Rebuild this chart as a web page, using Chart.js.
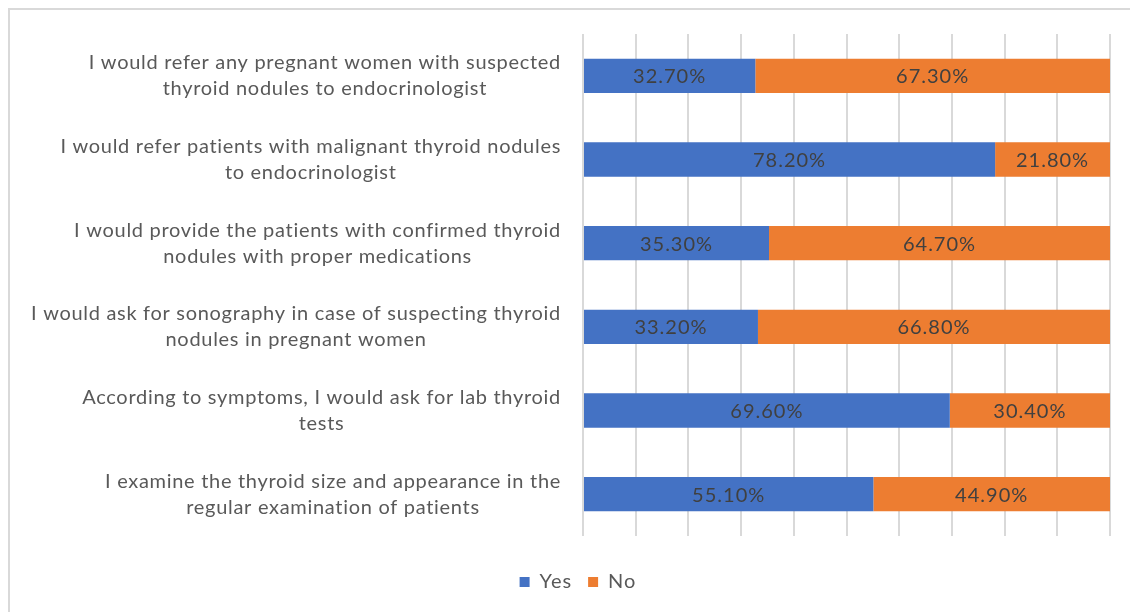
<!DOCTYPE html>
<html>
<head>
<meta charset="utf-8">
<script src="https://cdn.jsdelivr.net/npm/chart.js@4.4.0/dist/chart.umd.min.js"></script>
<style>
  html, body { margin: 0; padding: 0; background: #fff; overflow: hidden; }
  #wrap { position: relative; width: 1130px; height: 612px; }
  #frame { position: absolute; left: 8px; top: 8px; width: 1200px; height: 700px; border: 2px solid #d9d9d9; box-sizing: border-box; }
  canvas { position: absolute; left: 0; top: 0; }
</style>
</head>
<body>
<div id="wrap">
  <div id="frame"></div>
  <canvas id="chart" width="1130" height="612"></canvas>
</div>
<script>
const questions = [
  ["I would refer any pregnant women with suspected", "thyroid nodules to endocrinologist"],
  ["I would refer patients with malignant thyroid nodules", "to endocrinologist"],
  ["I would provide the patients with confirmed thyroid", "nodules with proper medications"],
  ["I would ask for sonography in case of suspecting thyroid", "nodules in pregnant women"],
  ["According to symptoms, I would ask for lab thyroid", "tests"],
  ["I examine the thyroid size and appearance in the", "regular examination of patients"]
];
const yesValues = [32.7, 78.2, 35.3, 33.2, 69.6, 55.1];
const noValues = [67.3, 21.8, 64.7, 66.8, 30.4, 44.9];

const FONT = "Lato, 'Open Sans', sans-serif";

// wider letter spacing for everything the library draws (legend)
const spacing = {
  id: 'spacing',
  beforeLayout(chart) { chart.ctx.letterSpacing = '1px'; },
  beforeDraw(chart) { chart.ctx.letterSpacing = '1px'; }
};

// labels inside each bar segment
const barLabels = {
  id: 'barLabels',
  afterDatasetsDraw(chart) {
    const ctx = chart.ctx;
    ctx.save();
    ctx.font = "20px " + FONT;
    ctx.letterSpacing = '1px';
    ctx.fillStyle = '#404040';
    ctx.textAlign = 'center';
    ctx.textBaseline = 'middle';
    chart.data.datasets.forEach((ds, i) => {
      chart.getDatasetMeta(i).data.forEach((bar, j) => {
        const x = (bar.base + bar.x) / 2;
        ctx.fillText(ds.data[j].toFixed(2) + '%', x, bar.y + 1);
      });
    });
    ctx.restore();
  }
};

// category labels: each block centred on itself, block right-aligned to the axis
const catLabels = {
  id: 'catLabels',
  afterDraw(chart) {
    const ctx = chart.ctx;
    const y = chart.scales.y;
    const right = chart.chartArea.left - 22;
    ctx.save();
    ctx.font = "20px " + FONT;
    ctx.letterSpacing = '0.7px';
    ctx.fillStyle = '#595959';
    ctx.textAlign = 'center';
    ctx.textBaseline = 'middle';
    questions.forEach((lines, i) => {
      const w = Math.max(...lines.map(l => ctx.measureText(l).width));
      const cx = right - w / 2;
      const cy = y.getPixelForValue(i);
      const lh = 26;
      lines.forEach((l, k) => {
        ctx.fillText(l, cx, cy + (k - (lines.length - 1) / 2) * lh);
      });
    });
    ctx.restore();
  }
};

new Chart(document.getElementById('chart'), {
  type: 'bar',
  data: {
    labels: questions,
    datasets: [
      { label: 'Yes', data: yesValues, backgroundColor: '#4472C4', barPercentage: 0.82, categoryPercentage: 0.5 },
      { label: 'No', data: noValues, backgroundColor: '#ED7D31', barPercentage: 0.82, categoryPercentage: 0.5 }
    ]
  },
  options: {
    indexAxis: 'y',
    responsive: false,
    animation: false,
    layout: { padding: { left: 46, right: 20, top: 34, bottom: 10 } },
    scales: {
      x: {
        stacked: true,
        min: 0,
        max: 100,
        ticks: { display: false, stepSize: 10 },
        border: { display: false },
        grid: { color: '#d9d9d9', lineWidth: 2, drawTicks: false },
        afterFit(axis) { axis.height = 20; }
      },
      y: {
        stacked: true,
        ticks: { display: false },
        border: { display: false },
        grid: { display: false },
        afterFit(axis) { axis.width = 537; }
      }
    },
    plugins: {
      legend: {
        position: 'bottom',
        labels: {
          boxWidth: 10,
          boxHeight: 10,
          padding: 16,
          color: '#595959',
          font: { size: 20, family: FONT }
        }
      },
      tooltip: { enabled: false }
    }
  },
  plugins: [spacing, barLabels, catLabels]
});
</script>
</body>
</html>
